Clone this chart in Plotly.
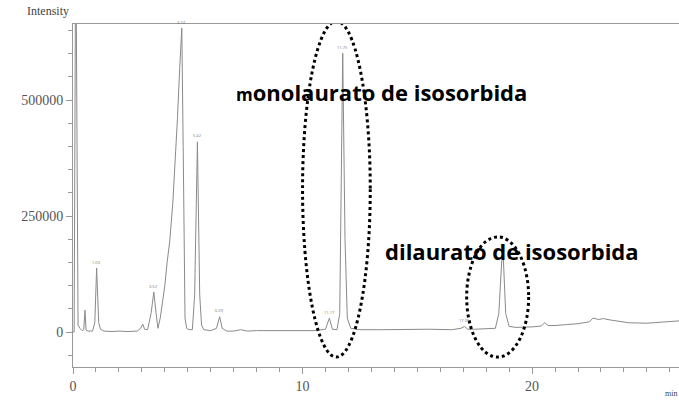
import plotly.graph_objects as go

# Chromatogram (time in min, intensity)
time_min = [0.00, 0.05, 0.12, 0.22, 0.30, 0.40, 0.47, 0.52, 0.57, 0.65, 0.85, 0.95, 1.03, 1.12, 1.20,
            1.35, 1.70, 2.00, 2.40, 2.80, 2.95, 3.04, 3.12, 3.25, 3.40, 3.52, 3.62, 3.70, 3.80, 3.90,
            4.00, 4.10, 4.22, 4.35, 4.45, 4.55, 4.65, 4.74, 4.80, 4.84, 4.88, 4.95, 5.05, 5.20, 5.30,
            5.42, 5.52, 5.60, 5.70, 6.00, 6.25, 6.39, 6.50, 6.70, 7.00, 7.30, 7.40, 7.60, 8.00, 9.00,
            10.00, 10.50, 11.00, 11.17, 11.30, 11.50, 11.62, 11.75, 11.85, 11.95, 12.10, 12.50, 13.50,
            14.50, 15.50, 16.50, 16.90, 17.05, 17.20, 17.50, 18.00, 18.40, 18.55, 18.72, 18.85, 19.00,
            19.30, 19.60, 20.00, 20.40, 20.55, 20.70, 21.00, 21.50, 22.00, 22.50, 22.65, 22.90, 23.10,
            23.40, 23.70, 24.20, 25.00, 25.70, 26.40]
intensity = [0, 0, 900000, 15000, 8000, 3000, 5000, 47000, 4000, 2000, 2000, 20000, 138000, 20000, 6000,
             2000, 1000, 2000, 1000, 2000, 8000, 17000, 6000, 5000, 40000, 86000, 40000, 8000, 30000, 60000,
             100000, 150000, 198000, 280000, 360000, 460000, 570000, 655000, 400000, 150000, 30000, 8000, 5000, 5000, 80000,
             410000, 80000, 15000, 5000, 3000, 8000, 33000, 8000, 2000, 2000, 5000, 4000, 2000, 3000, 3000,
             4000, 3000, 6000, 30000, 6000, 5000, 40000, 601000, 200000, 30000, 8000, 5000, 5000,
             6000, 6000, 5000, 8000, 12000, 6000, 6000, 7000, 8000, 40000, 190000, 40000, 12000,
             10000, 10000, 11000, 13000, 20000, 14000, 14000, 16000, 18000, 22000, 30000, 27000, 29000,
             26000, 24000, 20000, 19000, 21000, 24000]

# Small retention-time labels above peaks
label_times = [1.03, 3.52, 4.74, 5.42, 6.39, 11.17, 11.75, 17.05]
label_values = [138000, 86000, 655000, 410000, 33000, 30000, 601000, 12000]

# Callouts
callout_texts = ["<span style='font-size:17px'>m</span>onolaurato de isosorbida", "dilaurato de isosorbida"]
callout_x = [13.44, 19.14]
callout_y = [517000, 174000]
ellipse_x0 = [10.0, 17.15]
ellipse_x1 = [12.95, 19.85]
ellipse_y0 = [-54000, -54000]
ellipse_y1 = [670000, 205000]

x_tick_vals = [0, 10, 20]
y_tick_vals = [0, 250000, 500000]
y_tick_text = ["0", "250000", "500000"]

serif = "Liberation Serif, Times New Roman, Times, serif"

fig = go.Figure()
fig.add_trace(go.Scatter(x=time_min, y=intensity, mode="lines",
                         line=dict(color="#8a8a8a", width=1), showlegend=False, hoverinfo="skip"))

for t, v in zip(label_times, label_values):
    fig.add_annotation(x=t, y=v, text=f"{t:.2f}", showarrow=False, yshift=6,
                       font=dict(size=4, color="#777"))

for txt, cx, cy in zip(callout_texts, callout_x, callout_y):
    fig.add_annotation(x=cx, y=cy, text=f"<b>{txt}</b>", showarrow=False,
                       font=dict(family="Open Sans", size=22, color="black"))

for x0, x1, y0, y1 in zip(ellipse_x0, ellipse_x1, ellipse_y0, ellipse_y1):
    fig.add_shape(type="circle", xref="x", yref="y", x0=x0, x1=x1, y0=y0, y1=y1,
                  line=dict(color="black", width=3, dash="dot"))

fig.add_annotation(xref="paper", yref="paper", x=-0.08, y=1.0, yshift=4, xanchor="left", yanchor="bottom",
                   text="Intensity", showarrow=False,
                   font=dict(family=serif, size=12, color="#444"))
fig.add_annotation(xref="paper", yref="paper", x=1.0, y=-0.095, xanchor="right", yanchor="bottom",
                   text="min", showarrow=False,
                   font=dict(family=serif, size=8, color="#444"))

axis_font = dict(family=serif, size=14, color="#555")
fig.update_xaxes(range=[0, 26.4], tickvals=x_tick_vals, ticks="outside", ticklen=6, tickcolor="#999",
                 showline=True, linecolor="#999", linewidth=1, mirror=True, showgrid=False, zeroline=False,
                 tickfont=axis_font, minor=dict(dtick=1, tick0=0, ticks="outside", ticklen=4, tickcolor="#999"))
fig.update_yaxes(range=[-75400, 664000], tickvals=y_tick_vals, ticktext=y_tick_text, ticks="outside",
                 ticklen=6, tickcolor="#999",
                 showline=True, linecolor="#999", linewidth=1, showgrid=False, zeroline=False,
                 tickfont=axis_font,
                 minor=dict(dtick=50000, tick0=0, ticks="outside", ticklen=4, tickcolor="#999"))

fig.update_layout(width=679, height=402, margin=dict(l=73, r=0, t=24, b=35),
                  plot_bgcolor="white", paper_bgcolor="white", showlegend=False)

fig.write_html("out.html", config={"displayModeBar": False},
               post_script="document.body.style.margin='0';")
